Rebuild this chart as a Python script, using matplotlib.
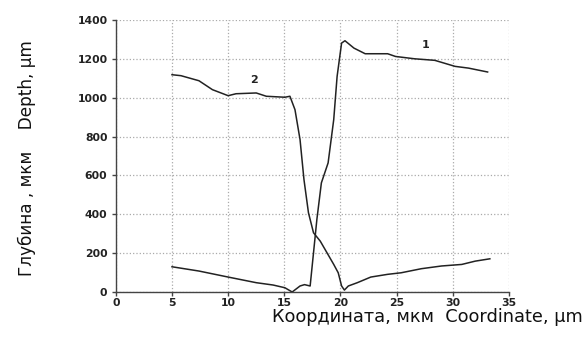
import matplotlib
matplotlib.use('Agg')
import matplotlib.pyplot as plt

# профиль 1 (координата, мкм ; глубина, мкм)
x1 = [5.0, 7.4, 10.0, 12.5, 14.0, 15.05, 15.7, 16.4, 16.8, 17.3, 17.6, 17.9, 18.3, 18.9,
      19.4, 19.7, 20.1, 20.4, 21.2, 22.2, 24.2, 24.9, 26.6, 28.4, 30.2, 31.4, 33.1]
y1 = [130, 108, 77, 48, 36, 22, 0, 31, 38, 31, 202, 374, 562, 665,
      888, 1110, 1282, 1294, 1256, 1227, 1227, 1213, 1201, 1193, 1162, 1153, 1133]

# профиль 2
x2 = [5.0, 5.8, 7.4, 8.6, 10.0, 10.7, 12.5, 13.4, 15.05, 15.5, 15.95, 16.4, 16.75, 17.15,
      17.6, 18.2, 18.8, 19.4, 19.8, 20.1, 20.35, 20.7, 21.5, 22.7, 24.2, 25.4, 27.2,
      29.0, 30.8, 32.0, 33.3]
y2 = [1119, 1114, 1088, 1042, 1011, 1021, 1025, 1008, 1003, 1008, 939, 785, 579, 408,
      305, 262, 202, 142, 99, 31, 10, 31, 48, 77, 91, 99, 120,
      134, 142, 159, 171]

xticks = [0, 5, 10, 15, 20, 25, 30, 35]
yticks = [0, 200, 400, 600, 800, 1000, 1200, 1400]

fig = plt.figure(figsize=(5.85, 3.45), dpi=100)
ax = fig.add_axes([0.198, 0.1536, 0.672, 0.788])

ax.plot(x1, y1, color='#222222', lw=1.1)
ax.plot(x2, y2, color='#222222', lw=1.1)
ax.text(27.6, 1273, '1', fontsize=8, fontweight='bold', ha='center', va='center', color='#222222')
ax.text(12.3, 1093, '2', fontsize=8, fontweight='bold', ha='center', va='center', color='#222222')

ax.set_xlim(0, 35)
ax.set_ylim(0, 1400)
ax.set_xticks(xticks)
ax.set_yticks(yticks)
ax.grid(True, color='#aaaaaa', linestyle=':', linewidth=0.9)
ax.set_axisbelow(True)
for s in ['top', 'right']:
    ax.spines[s].set_visible(False)
for s in ['left', 'bottom']:
    ax.spines[s].set_color('#444444')
    ax.spines[s].set_linewidth(1.0)
ax.tick_params(direction='out', length=3, width=1, color='#444444', labelsize=7.8, labelcolor='#222222')
ax.tick_params(axis='x', pad=1.5)
ax.tick_params(axis='y', pad=3)
for lab in ax.get_xticklabels() + ax.get_yticklabels():
    lab.set_fontweight('bold')

fig.text(0.997, 0.082, 'Координата, мкм  Coordinate, µm', ha='right', va='center', fontsize=12.8, color='#111111')
fig.text(0.046, 0.543, 'Глубина , мкм    Depth, µm', rotation=90, ha='center', va='center', fontsize=12.2, color='#111111')

fig.savefig('out.png', dpi=100)
